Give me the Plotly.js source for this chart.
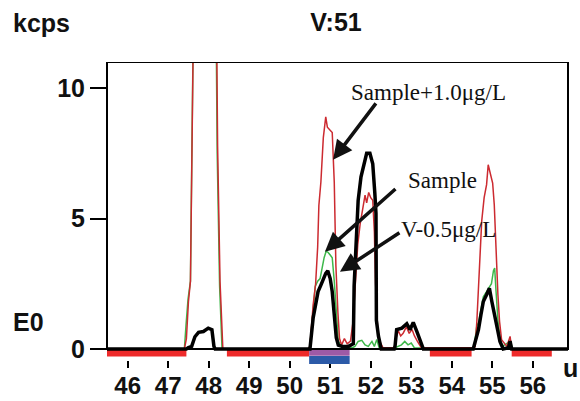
<!DOCTYPE html>
<html>
<head>
<meta charset="utf-8">
<script src="https://cdn.plot.ly/plotly-3.0.1.min.js"></script>
<style>html,body{margin:0;padding:0;background:#fff;}#chart{width:580px;height:401px;}</style>
</head>
<body>
<div id="chart"></div>
<script>
// ---------- data ----------
const seriesNames = ["Sample+1.0\u03bcg/L", "Sample", "V-0.5\u03bcg/L"];

const spikeX = [45.49, 47.40, 47.45, 47.50, 47.55, 47.60, 47.65, 47.75, 47.85, 47.95, 48.05, 48.15, 48.20, 48.22, 48.28, 48.35,
  50.45, 50.50, 50.58, 50.64, 50.69, 50.72, 50.77, 50.83, 50.89, 50.93, 51.00, 51.05, 51.10, 51.14, 51.19, 51.23, 51.28, 51.35, 51.42,
  51.50, 51.56, 51.62, 51.68, 51.74, 51.80, 51.86, 51.90, 51.95, 52.00, 52.05, 52.09, 52.12, 52.17, 52.22, 52.30,
  52.58, 52.62, 52.68, 52.74, 52.80, 52.88, 52.95, 53.02, 53.08, 53.15, 53.25,
  54.55, 54.58, 54.62, 54.66, 54.70, 54.74, 54.80, 54.86, 54.90, 54.96, 55.01, 55.05, 55.09, 55.14, 55.18, 55.23, 55.36, 55.44, 55.48, 56.87];
const spikeY = [0, 0, 0.4, 1.8, 2.6, 10.7, 16, 24, 28, 27, 22, 15, 11.5, 7.8, 2.6, 0,
  0, 0.1, 1.7, 2.5, 3.9, 5.5, 6.4, 8.1, 8.9, 8.5, 8.4, 8.3, 6.4, 3.2, 1.4, 0.4, 0.15, 0.4, 0.2,
  0.3, 1.0, 2.4, 4.0, 4.8, 5.4, 5.9, 5.6, 6.0, 5.8, 5.7, 4.5, 2.5, 0.8, 0.3, 0.05,
  0.05, 0.4, 0.7, 0.5, 0.6, 0.85, 0.6, 0.75, 0.5, 0.3, 0.05,
  0.05, 0.1, 1.06, 2.2, 3.6, 4.9, 5.8, 6.3, 7.06, 6.7, 6.36, 5.53, 3.87, 2.08, 1.06, 0.36, 0.1, 0.48, 0, 0];

const sampleX = [45.49, 47.40, 47.44, 47.49, 47.55, 47.60, 47.65, 47.75, 47.85, 47.95, 48.05, 48.15, 48.19, 48.21, 48.27, 48.33,
  50.45, 50.50, 50.57, 50.63, 50.69, 50.75, 50.80, 50.85, 50.90, 50.95, 51.00, 51.05, 51.10, 51.15, 51.20, 51.28, 51.40,
  51.55, 51.61, 51.69, 51.78, 51.86, 51.94, 52.03, 52.09, 52.15, 52.21,
  52.60, 52.70, 52.76, 52.84, 52.92, 53.00, 53.08,
  54.55, 54.62, 54.66, 54.72, 54.78, 54.86, 54.93, 54.98, 55.03, 55.06, 55.09, 55.14, 55.19, 55.25, 55.45, 55.50, 56.87];
const sampleY = [0, 0, 0.9, 1.9, 2.6, 10.8, 16.5, 24, 28, 27, 22, 15, 11.2, 7.5, 2.4, 0,
  0, 0.1, 1.3, 2.4, 2.6, 2.7, 3.1, 3.5, 3.75, 3.7, 3.6, 3.5, 2.6, 1.2, 0.3, 0.1, 0.05,
  0.05, 0.1, 0.29, 0.33, 0.16, 0.1, 0.29, 0.1, 0.36, 0.04,
  0.05, 0.1, 0.16, 0.29, 0.16, 0.23, 0.04,
  0.05, 0.9, 1.0, 1.5, 2.0, 2.2, 2.35, 2.5, 3.0, 3.1, 2.3, 1.1, 0.4, 0.1, 0.3, 0, 0];

const stdX = [45.49, 47.45, 47.49, 47.58, 47.66, 47.75, 47.87, 47.99, 48.08, 48.13, 48.16,
  50.45, 50.50, 50.58, 50.64, 50.70, 50.77, 50.83, 50.89, 50.94, 51.00, 51.05, 51.10, 51.15, 51.20, 51.30, 51.45,
  51.57, 51.59, 51.64, 51.69, 51.76, 51.83, 51.90, 51.98, 52.05, 52.10, 52.13, 52.14, 52.19, 52.26,
  52.58, 52.60, 52.64, 52.77, 52.89, 52.97, 53.05, 53.14, 53.22, 53.30,
  54.53, 54.66, 54.72, 54.78, 54.86, 54.93, 54.99, 55.03, 55.09, 55.14, 55.19, 55.27, 55.40, 55.44, 55.48, 56.87];
const stdY = [0, 0, 0.05, 0.1, 0.47, 0.64, 0.67, 0.8, 0.74, 0.1, 0,
  0, 0, 1.2, 1.7, 2.2, 2.45, 2.7, 2.9, 3.0, 2.7, 2.2, 1.44, 0.43, 0.15, 0.1, 0.1,
  0.2, 2.4, 4.2, 5.7, 6.6, 7.1, 7.5, 7.5, 7.1, 6.0, 5.2, 1.1, 0.5, 0,
  0, 0.1, 0.74, 0.8, 0.97, 0.74, 1.02, 0.67, 0.36, 0,
  0, 0.74, 1.3, 1.82, 2.08, 2.33, 1.82, 1.44, 1.06, 0.67, 0.29, 0, 0.05, 0.3, 0, 0];

// integration windows (element energy windows)
const winStart = [45.49, 48.45, 50.48, 53.46, 55.48];
const winEnd   = [47.45, 50.48, 51.48, 54.49, 56.47];
const winKind  = ["bg", "bg", "peak", "bg", "bg"];

const xTicks = [46, 47, 48, 49, 50, 51, 52, 53, 54, 55, 56];
const yTicks = [0, 5, 10];

// ---------- layout helpers ----------
const W = 580, H = 401;
const L = 107, R = 568, T = 62, B = 364;
const px = v => (v - L) / (R - L);
const py = v => (B - v) / (B - T);

const traces = [];
// windows
winStart.forEach((s, i) => {
  const e = winEnd[i];
  if (winKind[i] === "bg") {
    traces.push({x: [s, e], y: [-0.13, -0.13], mode: "lines", line: {color: "#ee2a2a", width: 8}, hoverinfo: "skip", showlegend: false});
  } else {
    traces.push({x: [s, e], y: [-0.12, -0.12], mode: "lines", line: {color: "#9d5aa6", width: 7}, hoverinfo: "skip", showlegend: false});
    traces.push({x: [s, e], y: [-0.42, -0.42], mode: "lines", line: {color: "#2c5aa8", width: 8}, hoverinfo: "skip", showlegend: false});
  }
});
traces.push({x: sampleX, y: sampleY, name: seriesNames[1], mode: "lines", line: {color: "#3db84a", width: 1.5}, showlegend: false});
traces.push({x: spikeX, y: spikeY, name: seriesNames[0], mode: "lines", line: {color: "#cc2a30", width: 1.5}, showlegend: false});
traces.push({x: stdX, y: stdY, name: seriesNames[2], mode: "lines", line: {color: "#000000", width: 3.5}, showlegend: false});

const tickFont = {family: "Liberation Sans, Arial, sans-serif", size: 24, color: "#111", weight: 700};
const serif = {family: "Liberation Serif, Times New Roman, serif", size: 23, color: "#111"};
const boldLbl = {family: "Liberation Sans, Arial, sans-serif", size: 25, color: "#111", weight: 700};

const layout = {
  width: W, height: H,
  margin: {l: L, r: W - R, t: T, b: H - B, pad: 0},
  paper_bgcolor: "#fff", plot_bgcolor: "#fff",
  showlegend: false,
  title: {text: "V:51", font: boldLbl,
          x: 336 / W, xref: "container", xanchor: "center", y: 1 - 22 / H, yref: "container", yanchor: "middle"},
  xaxis: {range: [45.49, 56.87], tickvals: xTicks, ticktext: xTicks.map(String), ticks: "outside", ticklen: 7, tickwidth: 2,
          tickcolor: "#000", showline: false, showgrid: false, zeroline: false, tickfont: tickFont, ticklabelstandoff: -3,
          anchor: "free", position: (B - 360) / (B - T), layer: "below traces", fixedrange: true},
  yaxis: {range: [-0.575, 11], tickvals: yTicks, ticktext: yTicks.map(String), ticks: "outside", ticklen: 16, tickwidth: 2,
          tickcolor: "#000", showline: false, showgrid: false, zeroline: false, tickfont: boldLbl, fixedrange: true},
  shapes: [
    {type: "rect", xref: "paper", yref: "y", x0: 0, x1: 1, y0: 0, y1: 11, line: {color: "#000", width: 2}, layer: "above"}
  ],
  annotations: [
    {text: "kcps", xref: "paper", yref: "paper", x: px(11), y: py(23), xanchor: "left", yanchor: "middle", showarrow: false, font: boldLbl},
    {text: "E0", xref: "paper", yref: "paper", x: px(11), y: py(322), xanchor: "left", yanchor: "middle", showarrow: false, font: boldLbl},
    {text: "u", xref: "paper", yref: "paper", x: px(580), y: py(368), xanchor: "right", yanchor: "middle", showarrow: false, font: boldLbl},
    {text: seriesNames[0], xref: "paper", yref: "paper", x: px(349), y: py(93), xanchor: "left", yanchor: "middle", showarrow: false, font: serif},
    {text: seriesNames[1], xref: "paper", yref: "paper", x: px(406), y: py(180), xanchor: "left", yanchor: "middle", showarrow: false, font: serif},
    {text: seriesNames[2], xref: "paper", yref: "paper", x: px(399), y: py(229), xanchor: "left", yanchor: "middle", showarrow: false, font: serif},
    // arrows (tips in data coordinates, tails offset in pixels)
    {text: "", x: 51.07, y: 7.25, xref: "x", yref: "y", showarrow: true, ax: 44, ay: -58, arrowhead: 2, arrowsize: 1.1, arrowwidth: 3.5, arrowcolor: "#111"},
    {text: "", x: 50.87, y: 3.73, xref: "x", yref: "y", showarrow: true, ax: 72, ay: -64, arrowhead: 2, arrowsize: 1.1, arrowwidth: 3.5, arrowcolor: "#111"},
    {text: "", x: 51.24, y: 2.96, xref: "x", yref: "y", showarrow: true, ax: 61, ay: -40, arrowhead: 2, arrowsize: 1.1, arrowwidth: 3.5, arrowcolor: "#111"}
  ]
};

Plotly.newPlot("chart", traces, layout, {staticPlot: true, displayModeBar: false});
</script>
</body>
</html>
